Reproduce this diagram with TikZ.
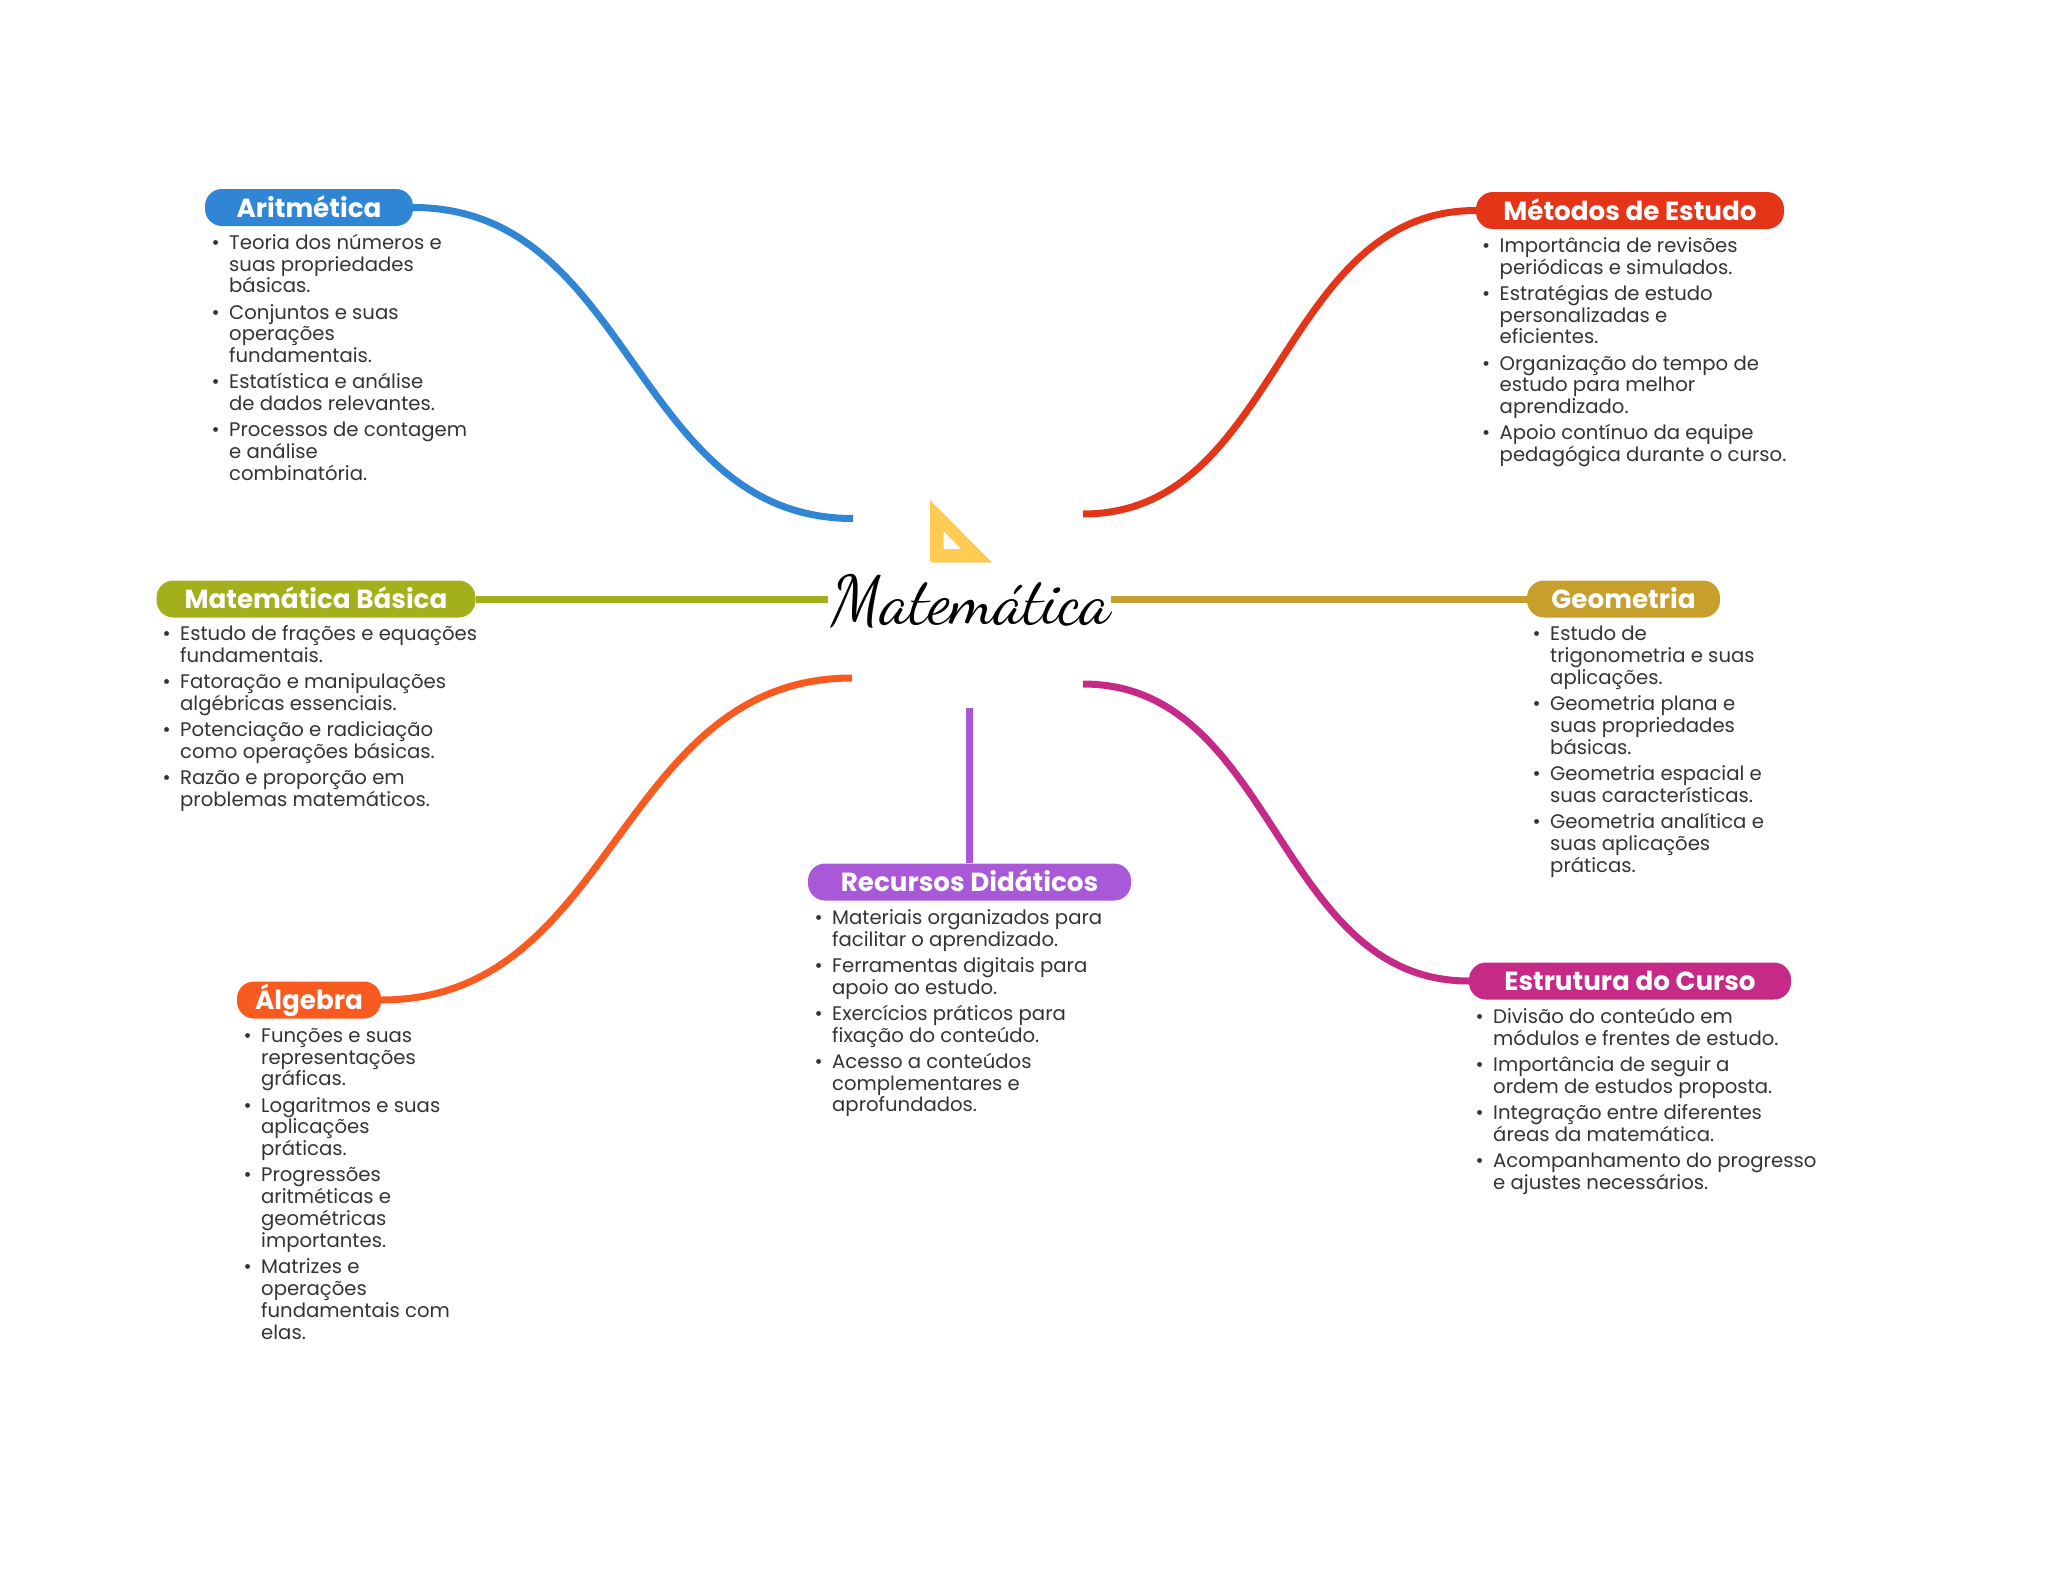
\documentclass[tikz,border=0pt]{standalone}
\usepackage{fontspec}
\setmainfont{Poppins}
\newfontfamily\scr{Dancing Script}
\definecolor{cblue}{HTML}{3085D5}
\definecolor{cred}{HTML}{E53519}
\definecolor{colive}{HTML}{A3B01C}
\definecolor{cgold}{HTML}{C79F2D}
\definecolor{corange}{HTML}{F95A20}
\definecolor{cpurple}{HTML}{A958D8}
\definecolor{cmag}{HTML}{C62A87}
\definecolor{cyel}{HTML}{FFCB52}
\definecolor{ctxt}{HTML}{333333}
\newcommand\bl{\rule{0pt}{16.5pt}\hspace*{-17.5pt}\makebox[17.5pt][l]{\textbullet}}
\newcommand\gp{\\[4.3pt]}
\tikzset{
  pill/.style={fill=#1,rounded corners=17pt,minimum height=37pt,inner sep=0pt,text=white,
    text height=20pt,text depth=1pt,
    font=\fontsize{26.2}{28}\selectfont\bfseries},
  body/.style={anchor=north west,inner sep=0pt,align=left,text=ctxt,
    font=\fontsize{19.65}{21.85}\selectfont},
  conn/.style={draw=#1,line width=7pt,line cap=butt}
}
\begin{document}
\begin{tikzpicture}[x=1pt,y=-1pt]
\useasboundingbox (0,0) rectangle (2048,1569);
% centre
\node[anchor=base,inner sep=0pt,font=\fontsize{67}{67}\selectfont\scr\bfseries] (title) at (971,622) {Matemática};
\fill[cyel,even odd rule] (930,500) -- (992,562.5) -- (932,562.5) -- (930,560.5) -- cycle
  (943.5,531) -- (961,549) -- (943.5,549) -- cycle;
% pills
\node[pill=cblue,minimum width=208pt] (ar) at (309,207.5) {Aritmética};
\node[pill=cred,minimum width=308pt] (me) at (1630,210.5) {Métodos de Estudo};
\node[pill=colive,minimum width=319pt] (mb) at (316,599) {Matemática Básica};
\node[pill=cgold,minimum width=193pt] (ge) at (1623.5,599) {Geometria};
\node[pill=corange,minimum width=144pt] (al) at (309,1000) {Álgebra};
\node[pill=cpurple,minimum width=323pt] (re) at (969.5,882) {Recursos Didáticos};
\node[pill=cmag,minimum width=322pt] (es) at (1630,981) {Estrutura do Curso};
% free ends
\coordinate (ar2) at (853,518.5);
\coordinate (me2) at (1083,514);
\coordinate (mb2) at (828,599);
\coordinate (ge2) at (1111,599);
\coordinate (al2) at (852,678);
\coordinate (es2) at (1083,684);
\coordinate (re2) at (969.5,708);
% connectors
\draw[conn=cblue] (ar.east) .. controls +(220,0) and +(-220,0) .. (ar2);
\draw[conn=cred] (me.west) .. controls +(-197,0) and +(197,0) .. (me2);
\draw[conn=colive] (mb.east) -- (mb2);
\draw[conn=cgold] (ge.west) -- (ge2);
\draw[conn=corange] (al.east) .. controls +(235,0) and +(-235,0) .. (al2);
\draw[conn=cmag] (es.west) .. controls +(-193,0) and +(193,0) .. (es2);
\draw[conn=cpurple] (re.north) -- (re2);
% text
\node[body] (tar) at (229,232.5) {\bl Teoria dos números e\\suas propriedades\\básicas.\gp
\bl Conjuntos e suas\\operações\\fundamentais.\gp
\bl Estatística e análise\\de dados relevantes.\gp
\bl Processos de contagem\\e análise\\combinatória.};
\node[body] (tme) at (1499.5,235.5) {\bl Importância de revisões\\periódicas e simulados.\gp
\bl Estratégias de estudo\\personalizadas e\\eficientes.\gp
\bl Organização do tempo de\\estudo para melhor\\aprendizado.\gp
\bl Apoio contínuo da equipe\\pedagógica durante o curso.};
\node[body] (tmb) at (180,624) {\bl Estudo de frações e equações\\fundamentais.\gp
\bl Fatoração e manipulações\\algébricas essenciais.\gp
\bl Potenciação e radiciação\\como operações básicas.\gp
\bl Razão e proporção em\\problemas matemáticos.};
\node[body] (tge) at (1550,624) {\bl Estudo de\\trigonometria e suas\\aplicações.\gp
\bl Geometria plana e\\suas propriedades\\básicas.\gp
\bl Geometria espacial e\\suas características.\gp
\bl Geometria analítica e\\suas aplicações\\práticas.};
\node[body] (tal) at (261,1025.5) {\bl Funções e suas\\representações\\gráficas.\gp
\bl Logaritmos e suas\\aplicações\\práticas.\gp
\bl Progressões\\aritméticas e\\geométricas\\importantes.\gp
\bl Matrizes e\\operações\\fundamentais com\\elas.};
\node[body] (tre) at (832,907.5) {\bl Materiais organizados para\\facilitar o aprendizado.\gp
\bl Ferramentas digitais para\\apoio ao estudo.\gp
\bl Exercícios práticos para\\fixação do conteúdo.\gp
\bl Acesso a conteúdos\\complementares e\\aprofundados.};
\node[body] (tes) at (1493,1006.5) {\bl Divisão do conteúdo em\\módulos e frentes de estudo.\gp
\bl Importância de seguir a\\ordem de estudos proposta.\gp
\bl Integração entre diferentes\\áreas da matemática.\gp
\bl Acompanhamento do progresso\\e ajustes necessários.};
\end{tikzpicture}
\end{document}
